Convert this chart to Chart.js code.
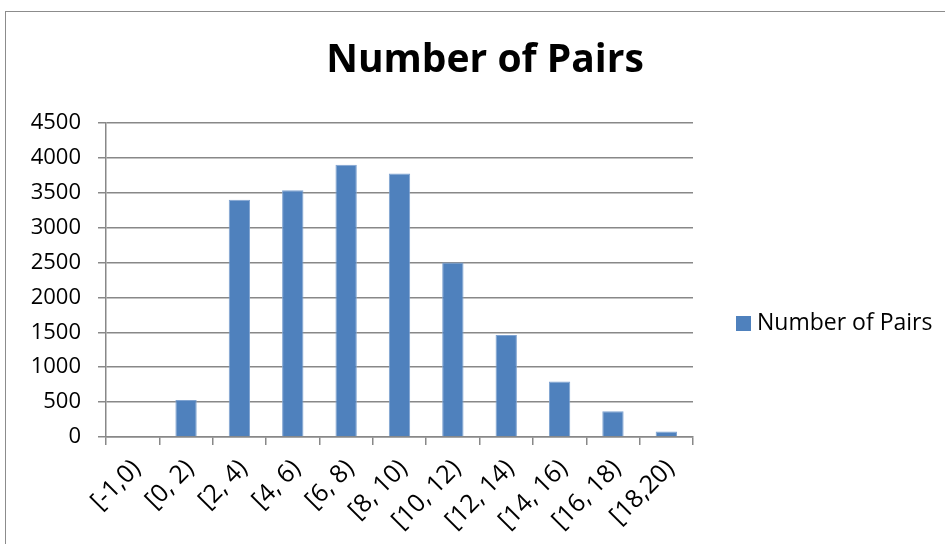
<!DOCTYPE html>
<html>
<head>
<meta charset="utf-8">
<script src="https://cdn.jsdelivr.net/npm/chart.js@4.4.1/dist/chart.umd.min.js"></script>
<style>
  html, body { margin: 0; padding: 0; background: #ffffff; }
  #wrap { width: 945px; height: 544px; position: relative; }
</style>
</head>
<body>
<div id="wrap"><canvas id="chart" width="945" height="544"></canvas></div>
<script>
// Histogram bins and counts
const categories = ['[-1,0)', '[0, 2)', '[2, 4)', '[4, 6)', '[6, 8)', '[8, 10)', '[10, 12)', '[12, 14)', '[14, 16)', '[16, 18)', '[18,20)'];
const pairCounts = [0, 530, 3400, 3535, 3900, 3775, 2500, 1460, 795, 370, 80];
const seriesName = 'Number of Pairs';
const yTicks = [0, 500, 1000, 1500, 2000, 2500, 3000, 3500, 4000, 4500];

const FONT = "'Open Sans', 'DejaVu Sans', sans-serif";
const GRID = '#888888';
const BAR = '#4F81BD';

// Outer frame around the chart
const framePlugin = {
  id: 'frame',
  beforeDraw(chart) {
    const ctx = chart.ctx;
    ctx.save();
    ctx.fillStyle = '#ffffff';
    ctx.fillRect(0, 0, chart.width, chart.height);
    ctx.strokeStyle = '#8c8c8c';
    ctx.lineWidth = 1;
    ctx.strokeRect(5.5, 11.5, chart.width + 20, chart.height + 20);
    ctx.restore();
  }
};

// Chart heading, centred across the whole frame
const headingPlugin = {
  id: 'heading',
  afterDraw(chart) {
    const ctx = chart.ctx;
    ctx.save();
    ctx.fillStyle = '#000000';
    ctx.font = 'bold 39px ' + FONT;
    ctx.textAlign = 'center';
    ctx.textBaseline = 'middle';
    ctx.fillText(chart.data.datasets[0].label, 485, 61);
    ctx.restore();
  }
};

// Legend entry on the right side
const sideLegend = {
  id: 'sideLegend',
  afterDraw(chart) {
    const ctx = chart.ctx;
    const ds = chart.data.datasets[0];
    ctx.save();
    ctx.fillStyle = ds.backgroundColor;
    ctx.fillRect(736, 316, 15, 15);
    ctx.fillStyle = '#000000';
    ctx.font = '23px ' + FONT;
    ctx.textBaseline = 'middle';
    ctx.textAlign = 'left';
    ctx.fillText(ds.label, 757, 323);
    ctx.restore();
  }
};

new Chart(document.getElementById('chart'), {
  type: 'bar',
  data: {
    labels: categories,
    datasets: [{
      label: seriesName,
      data: pairCounts,
      backgroundColor: BAR,
      borderColor: '#7FA3D1',
      borderWidth: 1,
      barPercentage: 0.4,
      categoryPercentage: 1.0
    }]
  },
  options: {
    responsive: false,
    animation: false,
    layout: { padding: { left: 0, right: 252, top: 123, bottom: 0 } },
    plugins: {
      legend: { display: false },
      tooltip: { enabled: false },
      title: { display: false }
    },
    scales: {
      x: {
        offset: true,
        grid: {
          offset: true,
          drawOnChartArea: false,
          drawTicks: true,
          tickLength: 8,
          color: GRID,
          lineWidth: 1.5
        },
        border: { display: true, color: GRID, width: 1.5 },
        ticks: {
          autoSkip: false,
          minRotation: 45,
          maxRotation: 45,
          color: '#000000',
          padding: 9,
          labelOffset: 4,
          font: { family: FONT, size: 25 }
        },
        afterFit(scale) { scale.height = 107; }
      },
      y: {
        min: 0,
        max: 4500,
        afterBuildTicks(scale) { scale.ticks = yTicks.map(v => ({ value: v })); },
        grid: {
          drawTicks: true,
          tickLength: 8,
          color: GRID,
          lineWidth: 1.5
        },
        border: { display: true, color: GRID, width: 1.5 },
        ticks: {
          color: '#000000',
          padding: 17,
          font: { family: FONT, size: 22 },
          callback: v => String(v)
        },
        afterFit(scale) { scale.width = 106; }
      }
    }
  },
  plugins: [framePlugin, headingPlugin, sideLegend]
});
</script>
</body>
</html>
